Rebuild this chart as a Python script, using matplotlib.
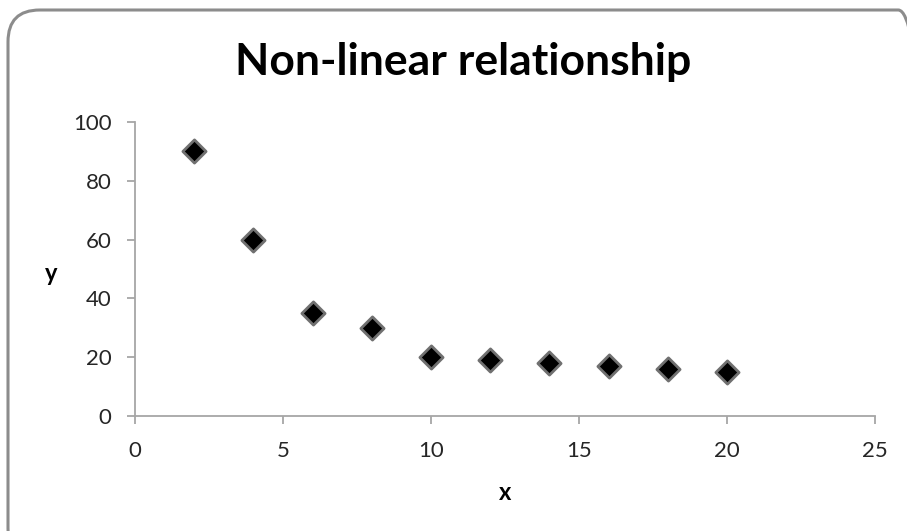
import matplotlib
matplotlib.use("Agg")
import matplotlib.pyplot as plt
from matplotlib.patches import FancyBboxPatch

# data
x_vals = [2, 4, 6, 8, 10, 12, 14, 16, 18, 20]
y_vals = [90, 60, 35, 30, 20, 19, 18, 17, 16, 15]
x_ticks = [0, 5, 10, 15, 20, 25]
y_ticks = [0, 20, 40, 60, 80, 100]

plt.rcParams['font.family'] = ['Lato', 'DejaVu Sans']

W, H, DPI = 907, 531, 100
fig = plt.figure(figsize=(W / DPI, H / DPI), dpi=DPI)
fig.patch.set_facecolor('white')

# rounded chart-area frame (extends past the right and bottom edges)
frame = FancyBboxPatch((8 / W, 1 - 560 / H), 930 / W - 8 / W, (560 - 10) / H,
                       boxstyle="round,pad=0,rounding_size=0.035",
                       transform=fig.transFigure, facecolor='none',
                       edgecolor='#8c8c8c', linewidth=2.2, zorder=0,
                       mutation_aspect=W / H)
fig.patches.append(frame)

ax = fig.add_axes([135 / W, 1 - 416 / H, (875 - 135) / W, (416 - 122) / H])
ax.set_facecolor('none')

ax.scatter(x_vals, y_vals, marker='D', s=140, facecolor='black',
           edgecolor='#707070', linewidth=2.0, zorder=3, clip_on=False)

ax.set_xlim(0, 25)
ax.set_ylim(0, 100)
ax.set_xticks(x_ticks)
ax.set_yticks(y_ticks)

for side in ['top', 'right']:
    ax.spines[side].set_visible(False)
for side in ['left', 'bottom']:
    ax.spines[side].set_color('#a6a6a6')
    ax.spines[side].set_linewidth(1.3)

ax.tick_params(axis='both', direction='out', length=6, width=1.3,
               color='#a6a6a6', labelsize=16, labelcolor='#262626')
ax.tick_params(axis='x', pad=12)
ax.tick_params(axis='y', pad=11)

fig.text(463 / W, 1 - 75 / H, 'Non-linear relationship', fontsize=32,
         fontweight='bold', color='black', ha='center', va='baseline')
fig.text(505 / W, 1 - 493 / H, 'x', fontsize=17, fontweight='bold',
         ha='center', va='center')
fig.text(51 / W, 1 - 274 / H, 'y', fontsize=17, fontweight='bold',
         ha='center', va='center')

fig.savefig('out.png', dpi=DPI, facecolor='white')
